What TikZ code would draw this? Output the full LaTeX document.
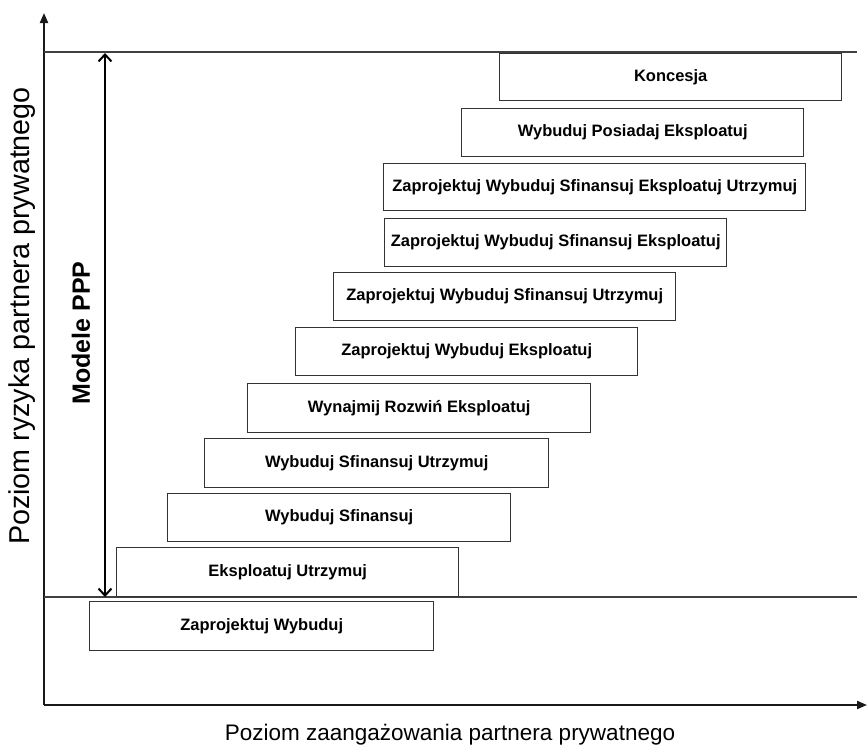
\documentclass[tikz,border=0pt]{standalone}
\usepackage{fontspec}
\setmainfont{Liberation Sans}
\usetikzlibrary{arrows.meta,positioning}

\tikzset{
  model/.style={draw=black!80, line width=1.4pt, minimum height=47pt,
    minimum width=342pt, anchor=north west, inner sep=0pt,
    font=\bfseries\fontsize{16.5}{18}\selectfont},
  axis/.style={line width=2pt, black!90, -{Triangle[length=10pt,width=8pt]}},
  level/.style={line width=1.2pt, black!75},
  span/.style={line width=2pt, {Straight Barb[length=7pt,width=13pt]}-{Straight Barb[length=7pt,width=13pt]}}
}

\begin{document}
\begin{tikzpicture}[x=1pt,y=-1pt]
    \useasboundingbox (0,0) rectangle (867,747);

    % axes
    \coordinate (o) at (44,705);
    \coordinate (ytop) at (44,13);
    \coordinate (xend) at (867,705);
    \draw[axis] (o) -- (ytop);
    \draw[axis] (o) -- (xend);

    % level lines
    \coordinate (hi l) at (44,52);
    \coordinate (hi r) at (857,52);
    \coordinate (lo l) at (44,597);
    \coordinate (lo r) at (857,597);
    \draw[level] (hi l) -- (hi r);
    \draw[level] (lo l) -- (lo r);

    % models
    \node[model] (konc) at (499,53) {Koncesja};
    \node[model, minimum height=48pt] (wpe) at (461,108) {Wybuduj Posiadaj Eksploatuj};
    \node[model, minimum width=422pt] (zwseu) at (383,163) {Zaprojektuj Wybuduj Sfinansuj Eksploatuj Utrzymuj};
    \node[model, minimum height=48pt] (zwse) at (384,218) {Zaprojektuj Wybuduj Sfinansuj Eksploatuj};
    \node[model, minimum height=48pt] (zwsu) at (333,272) {Zaprojektuj Wybuduj Sfinansuj Utrzymuj};
    \node[model, minimum height=48pt] (zwe) at (295,327) {Zaprojektuj Wybuduj Eksploatuj};
    \node[model, minimum height=49pt, minimum width=343pt] (wre) at (247,383) {Wynajmij Rozwiń Eksploatuj};
    \node[model, minimum height=49pt, minimum width=344pt] (wsu) at (204,438) {Wybuduj Sfinansuj Utrzymuj};
    \node[model, minimum height=48pt, minimum width=343pt] (ws) at (167,493) {Wybuduj Sfinansuj};
    \node[model, minimum height=49pt] (eu) at (116,547) {Eksploatuj Utrzymuj};
    \node[model, minimum height=49pt, minimum width=344pt] (zw) at (89,601) {Zaprojektuj Wybuduj};

    % PPP range
    \coordinate (ppp top) at (105,53);
    \coordinate (ppp bot) at (105,597);
    \draw[span] (ppp top) -- (ppp bot);
    \node[rotate=90, font=\bfseries\fontsize{25}{28}\selectfont] (ppp) at (81,333) {Modele PPP};

    % axis labels
    \node[font=\fontsize{22.5}{26}\selectfont] (xlab) at (450,735) {Poziom zaangażowania partnera prywatnego};
    \node[rotate=90, font=\fontsize{28.7}{32}\selectfont] (ylab) at (22,316) {Poziom ryzyka partnera prywatnego};
\end{tikzpicture}
\end{document}
